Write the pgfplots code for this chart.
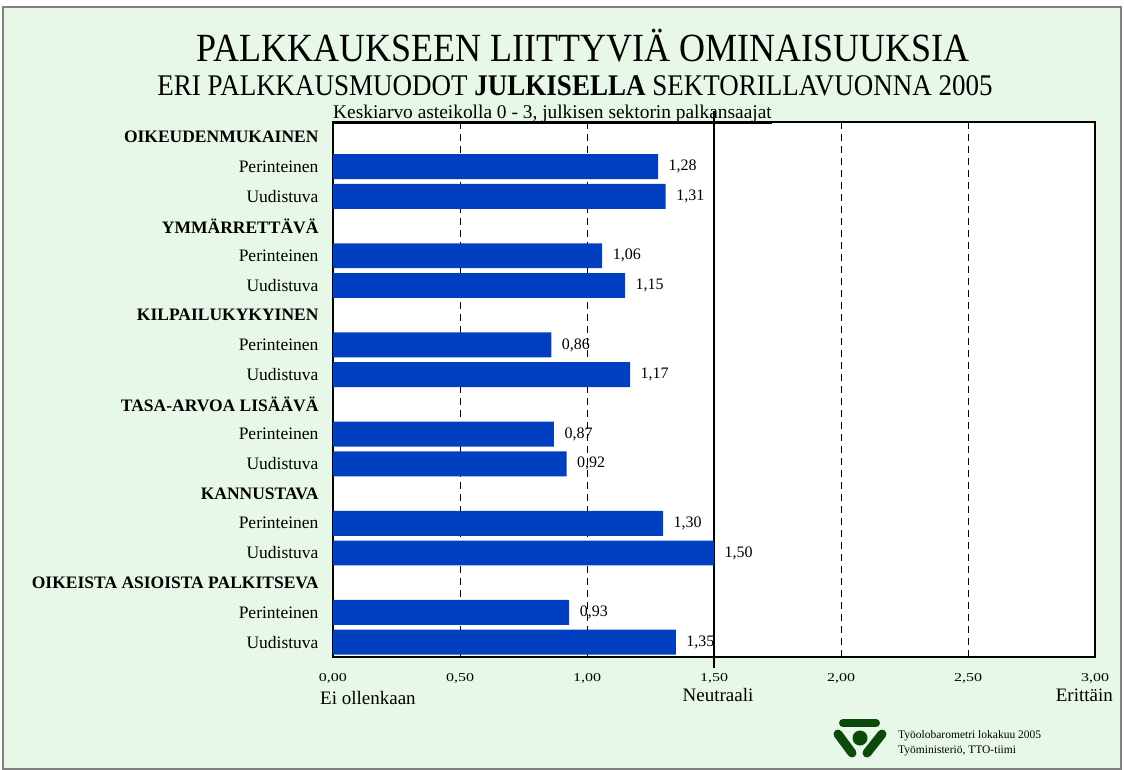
\documentclass[border=0pt]{standalone}
\usepackage{fontspec}
\setmainfont{Liberation Serif}
\usepackage{graphicx}
\usepackage{pgfplots}
\pgfplotsset{compat=1.18}
\definecolor{bgGreen}{HTML}{E8F8E8}
\definecolor{barBlue}{HTML}{0040C0}
\definecolor{logoGreen}{HTML}{0B4A0B}

\begin{document}
\begin{tikzpicture}[x=1pt,y=1pt]
% page and background
\path[use as bounding box,fill=white] (0,0) rectangle (1124,-769);
\draw[fill=bgGreen,draw=gray,line width=1.5pt] (3,-7) rectangle (1121,-769);

% titles
\node[anchor=base] at (583,-61) {\scalebox{0.9}[1]{\fontsize{40}{44}\selectfont PALKKAUKSEEN LIITTYVIÄ OMINAISUUKSIA}};
\node[anchor=base] at (575,-95) {\scalebox{0.9}[1]{\fontsize{30}{34}\selectfont ERI PALKKAUSMUODOT \textbf{JULKISELLA} SEKTORILLAVUONNA 2005}};

\begin{axis}[at={(333pt,-657pt)},anchor=south west,scale only axis,
 width=762pt,height=535pt,
 xbar,bar width=0.84,bar shift=0pt,
 xmin=0,xmax=3,ymin=-0.5,ymax=17.5,y dir=reverse,
 axis background/.style={fill=white},
 axis line style={black,line width=1.2pt},
 xtick={0,0.5,1,1.5,2,2.5,3},
 xmajorgrids,major grid style={black,dash pattern=on 7pt off 5pt,line width=0.8pt},
 major tick length=0pt,
 /pgf/number format/.cd,use comma,fixed,fixed zerofill,precision=2,assume math mode=true,
 /pgfplots/.cd,
 xticklabel={\scalebox{1}[0.75]{\pgfmathprintnumber{\tick}}},
 xticklabel style={font=\fontsize{16}{18}\selectfont,yshift=-12.5pt},
 extra x ticks={1.5},extra x tick labels={},
 extra x tick style={grid=major,major grid style={solid,black,line width=1.2pt},
   tick style={black,line width=1.2pt},major tick length=11pt,tick align=outside},
 ytick={0,...,17},
 yticklabels={\textbf{OIKEUDENMUKAINEN},Perinteinen,Uudistuva,
  \textbf{YMMÄRRETTÄVÄ},Perinteinen,Uudistuva,
  \textbf{KILPAILUKYKYINEN},Perinteinen,Uudistuva,
  \textbf{TASA-ARVOA LISÄÄVÄ},Perinteinen,Uudistuva,
  \textbf{KANNUSTAVA},Perinteinen,Uudistuva,
  \textbf{OIKEISTA ASIOISTA PALKITSEVA},Perinteinen,Uudistuva},
 yticklabel style={font=\fontsize{17.5}{20}\selectfont,xshift=-11pt},
 nodes near coords,
 every node near coord/.append style={font=\fontsize{16}{18}\selectfont,black,xshift=7pt},
 clip=false]
\addplot[fill=barBlue,draw=none] coordinates {
 (1.28,1) (1.31,2)
 (1.06,4) (1.15,5)
 (0.86,7) (1.17,8)
 (0.87,10) (0.92,11)
 (1.30,13) (1.50,14)
 (0.93,16) (1.35,17)};
\end{axis}

% subtitle above plot
\node[anchor=base west,inner sep=0pt] at (333,-118) {\fontsize{19.4}{21}\selectfont\underline{Keskiarvo asteikolla 0 - 3, julkisen sektorin palkansaajat}};

% scale descriptions
\node[anchor=base west,inner sep=0pt] at (320,-704) {\fontsize{19}{21}\selectfont Ei ollenkaan};
\node[anchor=base,inner sep=0pt] at (718,-701) {\fontsize{19}{21}\selectfont Neutraali};
\node[anchor=base east,inner sep=0pt] at (1113,-701) {\fontsize{19}{21}\selectfont Erittäin};

% logo
\draw[logoGreen,line width=8pt,line cap=round] (843,-723) -- (876,-723);
\draw[logoGreen,line width=9pt,line cap=round] (838,-734) -- (852,-753);
\draw[logoGreen,line width=9pt,line cap=round] (882,-734) -- (867,-753);
\fill[logoGreen] (860,-738) circle (7.5pt);
\node[anchor=base west,inner sep=0pt] at (898,-738) {\fontsize{11.5}{13}\selectfont Työolobarometri lokakuu 2005};
\node[anchor=base west,inner sep=0pt] at (898,-753) {\fontsize{11.5}{13}\selectfont Työministeriö, TTO-tiimi};
\end{tikzpicture}
\end{document}
